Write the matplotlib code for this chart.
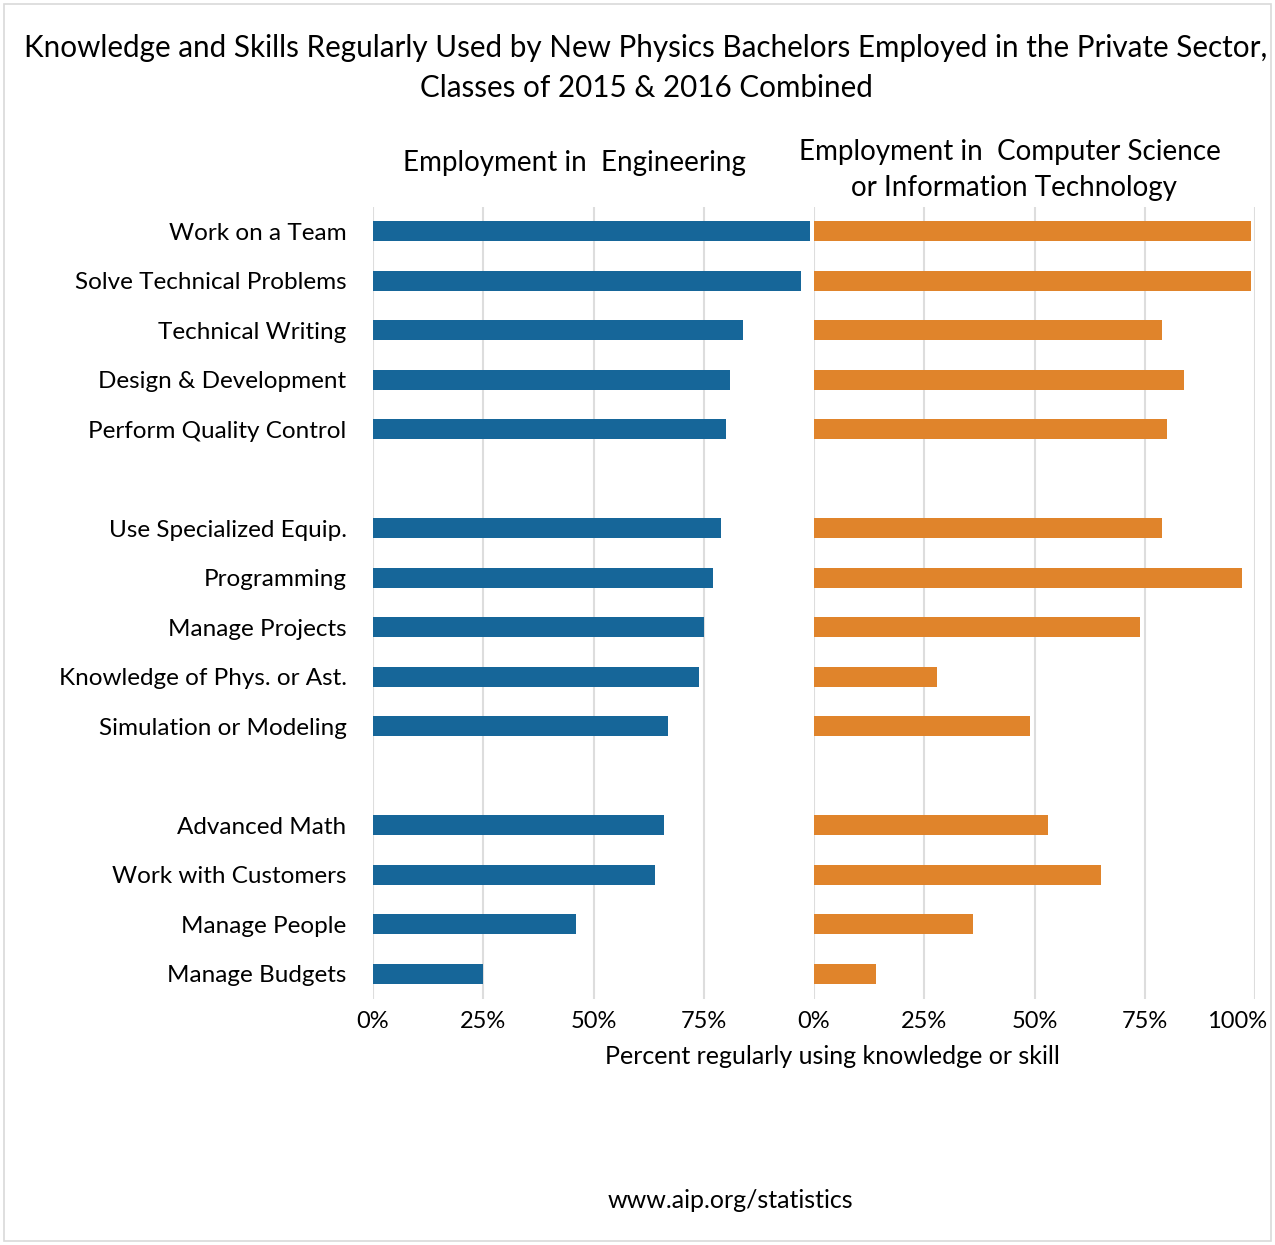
import matplotlib.pyplot as plt
from matplotlib.patches import Rectangle
from matplotlib.transforms import ScaledTranslation
import numpy as np

plt.rcParams["font.family"] = ["Lato", "DejaVu Sans"]

# one row per skill, None marks a blank spacer row between groups
skills = [
    "Work on a Team", "Solve Technical Problems", "Technical Writing",
    "Design & Development", "Perform Quality Control", None,
    "Use Specialized Equip.", "Programming", "Manage Projects",
    "Knowledge of Phys. or Ast.", "Simulation or Modeling", None,
    "Advanced Math", "Work with Customers", "Manage People", "Manage Budgets",
]
engineering = [99, 97, 84, 81, 80, None, 79, 77, 75, 74, 67, None, 66, 64, 46, 25]
cs_it = [99, 99, 79, 84, 80, None, 79, 97, 74, 28, 49, None, 53, 65, 36, 14]

left_ticks = [0, 25, 50, 75]
right_ticks = [0, 25, 50, 75, 100]

BLUE = "#166699"
ORANGE = "#E0842B"
GRID = "#DDDDDD"

W, H = 1275, 1245
fig = plt.figure(figsize=(W / 100, H / 100), dpi=100)
fig.patches.append(Rectangle((4 / W, 4 / H), 1 - 8 / W, 1 - 8 / H, transform=fig.transFigure,
                             fill=False, edgecolor="#D9D9D9", linewidth=1.2))

top, bottom = 206.5, 998.5
ax_l = fig.add_axes([373 / W, 1 - bottom / H, 441 / W, (bottom - top) / H])
ax_r = fig.add_axes([814 / W, 1 - bottom / H, 441 / W, (bottom - top) / H])

pos = np.arange(len(skills))


def draw_panel(ax, values, color, ticks):
    idx = [i for i, v in enumerate(values) if v is not None]
    ax.barh(pos[idx], [values[i] for i in idx], height=0.4, color=color, zorder=2)
    ax.set_xlim(0, 100)
    ax.set_ylim(len(skills) - 0.5, -0.5)
    for t in ticks:
        ax.axvline(t, color=GRID, linewidth=1.5, zorder=1)
    ax.set_xticks(ticks)
    ax.set_xticklabels([f"{t}%" for t in ticks], fontsize=17)
    ax.tick_params(axis="x", length=0, pad=9)
    for s in ax.spines.values():
        s.set_visible(False)


draw_panel(ax_l, engineering, BLUE, left_ticks)
draw_panel(ax_r, cs_it, ORANGE, right_ticks)

# keep the 100% label inside the frame, as in the original
last = ax_r.get_xticklabels()[-1]
last.set_ha("right")
last.set_transform(last.get_transform() + ScaledTranslation(0.12, 0, fig.dpi_scale_trans))

label_idx = [i for i, s in enumerate(skills) if s is not None]
ax_l.set_yticks(pos[label_idx])
ax_l.set_yticklabels([skills[i] for i in label_idx], fontsize=17.5)
ax_l.tick_params(axis="y", length=0, pad=19)
ax_r.set_yticks([])

fig.text(646 / W, 1 - 48 / H,
         "Knowledge and Skills Regularly Used by New Physics Bachelors Employed in the Private Sector,",
         ha="center", va="center", fontsize=21.3)
fig.text(646 / W, 1 - 88 / H, "Classes of 2015 & 2016 Combined",
         ha="center", va="center", fontsize=21.3)
fig.text(574 / W, 1 - 163 / H, "Employment in  Engineering",
         ha="center", va="center", fontsize=20)
fig.text(1010 / W, 1 - 152 / H, "Employment in  Computer Science",
         ha="center", va="center", fontsize=20)
fig.text(1014 / W, 1 - 188 / H, "or Information Technology",
         ha="center", va="center", fontsize=20)
fig.text(832 / W, 1 - 1057 / H, "Percent regularly using knowledge or skill",
         ha="center", va="center", fontsize=18)
fig.text(730 / W, 1 - 1200 / H, "www.aip.org/statistics",
         ha="center", va="center", fontsize=18)

fig.savefig("out.png", dpi=100)
